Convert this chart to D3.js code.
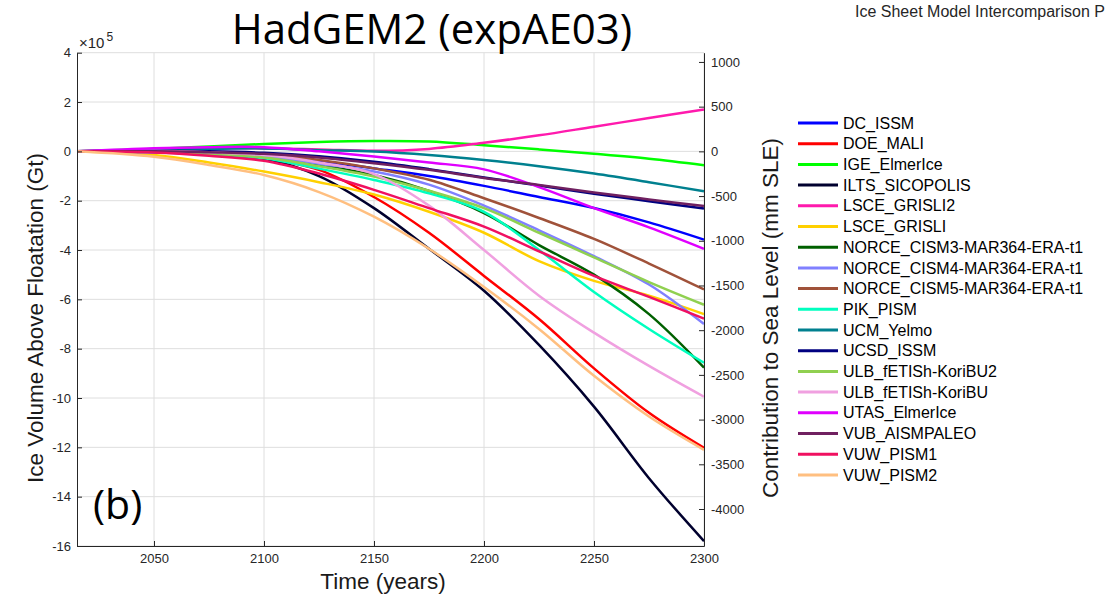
<!DOCTYPE html>
<html>
<head>
<meta charset="utf-8">
<script src="https://cdn.jsdelivr.net/npm/d3@7"></script>
<style>
body { margin: 0; background: #fff; }
text { font-family: 'Liberation Sans', Arial, sans-serif; }
</style>
</head>
<body>
<div id="chart"></div>
<script>
'use strict'
/* Data: ice volume change in units of 10^5 Gt */
var years = [2015, 2050, 2075, 2100, 2125, 2150, 2175, 2200, 2225, 2250, 2275, 2300];

var dcIssm        = [0, -0.04, -0.10, -0.20, -0.40, -0.69, -1.00, -1.40, -1.85, -2.30, -2.88, -3.58];
var doeMali       = [0, -0.03, -0.12, -0.28, -0.75, -1.85, -3.30, -5.05, -6.80, -8.80, -10.6, -12.02];
var igeElmerIce   = [0, 0.10, 0.20, 0.30, 0.38, 0.42, 0.40, 0.25, 0.08, -0.10, -0.30, -0.56];
var iltsSicopolis = [0, -0.03, -0.12, -0.30, -1.00, -2.30, -3.95, -5.65, -7.85, -10.35, -13.25, -15.8];
var lsceGrisli2   = [0, 0.08, 0.12, 0.12, 0.08, 0.02, 0.10, 0.35, 0.65, 1.00, 1.35, 1.70];
var lsceGrisli    = [0, -0.15, -0.45, -0.82, -1.25, -1.75, -2.45, -3.30, -4.45, -5.25, -5.85, -6.60];
var norceCism3    = [0, 0, -0.08, -0.20, -0.55, -0.96, -1.60, -2.50, -3.80, -5.00, -6.60, -8.77];
var norceCism4    = [0, -0.05, -0.10, -0.20, -0.50, -0.82, -1.35, -2.20, -3.20, -4.25, -5.40, -7.00];
var norceCism5    = [0, 0, -0.04, -0.12, -0.35, -0.69, -1.15, -1.90, -2.70, -3.55, -4.55, -5.60];
var pikPism       = [0, -0.02, -0.12, -0.28, -0.70, -1.16, -1.70, -2.45, -4.00, -5.70, -7.20, -8.57];
var ucmYelmo      = [0, 0.06, 0.10, 0.12, 0.05, -0.01, -0.15, -0.35, -0.60, -0.90, -1.25, -1.62];
var ucsdIssm      = [0, 0.02, 0, -0.06, -0.20, -0.42, -0.72, -1.06, -1.38, -1.72, -2.02, -2.32];
var ulbKoriBU2    = [0, -0.02, -0.10, -0.25, -0.60, -1.02, -1.60, -2.30, -3.30, -4.30, -5.30, -6.22];
var ulbKoriBU     = [0, 0.02, -0.04, -0.15, -0.45, -0.92, -2.20, -4.00, -5.85, -7.35, -8.70, -9.95];
var utasElmerIce  = [0, 0.13, 0.17, 0.17, 0.00, -0.21, -0.45, -0.73, -1.45, -2.30, -3.08, -3.95];
var vubAismPaleo  = [0, 0, -0.04, -0.10, -0.25, -0.48, -0.75, -1.08, -1.36, -1.67, -1.95, -2.22];
var vuwPism1      = [0, -0.05, -0.18, -0.38, -0.90, -1.56, -2.30, -3.05, -4.05, -5.05, -5.90, -6.78];
var vuwPism2      = [0, -0.22, -0.55, -0.96, -1.65, -2.65, -3.95, -5.50, -7.20, -9.10, -10.75, -12.1];

var names = ['DC_ISSM', 'DOE_MALI', 'IGE_ElmerIce', 'ILTS_SICOPOLIS', 'LSCE_GRISLI2', 'LSCE_GRISLI',
  'NORCE_CISM3-MAR364-ERA-t1', 'NORCE_CISM4-MAR364-ERA-t1', 'NORCE_CISM5-MAR364-ERA-t1', 'PIK_PISM',
  'UCM_Yelmo', 'UCSD_ISSM', 'ULB_fETISh-KoriBU2', 'ULB_fETISh-KoriBU', 'UTAS_ElmerIce',
  'VUB_AISMPALEO', 'VUW_PISM1', 'VUW_PISM2'];
var colors = ['#0000ff', '#ff0000', '#00ff00', '#00002e', '#ff1aad', '#ffd000',
  '#006000', '#8080ff', '#a0523a', '#00ffbf',
  '#00808f', '#000080', '#90d050', '#f0a0e0', '#e000ff',
  '#702060', '#f01060', '#ffbf80'];
var values = [dcIssm, doeMali, igeElmerIce, iltsSicopolis, lsceGrisli2, lsceGrisli,
  norceCism3, norceCism4, norceCism5, pikPism, ucmYelmo, ucsdIssm, ulbKoriBU2, ulbKoriBU,
  utasElmerIce, vubAismPaleo, vuwPism1, vuwPism2];

var xTicks = [2050, 2100, 2150, 2200, 2250, 2300];
var yTicks = [4, 2, 0, -2, -4, -6, -8, -10, -12, -14, -16];
var sleTicks = [1000, 500, 0, -500, -1000, -1500, -2000, -2500, -3000, -3500, -4000];
var gtPerMm = 362.5;

var w = 1117;
var h = 602;
var pLeft = 77, pRight = 704, pTop = 52.7, pBottom = 546;

var svg = d3.select('#chart').append('svg')
  .attr('width', w)
  .attr('height', h);

var x = d3.scaleLinear().domain([2015, 2300]).range([pLeft, pRight]);
var y = d3.scaleLinear().domain([-16, 4]).range([pBottom, pTop]);
var ySle = d3.scaleLinear().domain([-16e5 / gtPerMm, 4e5 / gtPerMm]).range([pBottom, pTop]);

/* grid */
svg.append('g').selectAll('line').data(xTicks).enter().append('line')
  .attr('x1', d => x(d)).attr('x2', d => x(d))
  .attr('y1', pTop).attr('y2', pBottom)
  .attr('stroke', '#dedede').attr('stroke-width', 1);
svg.append('g').selectAll('line').data(yTicks).enter().append('line')
  .attr('x1', pLeft).attr('x2', pRight)
  .attr('y1', d => y(d)).attr('y2', d => y(d))
  .attr('stroke', '#dedede').attr('stroke-width', 1);

/* lines */
var line = d3.line()
  .x((d, i) => x(years[i]))
  .y(d => y(d))
  .curve(d3.curveCatmullRom.alpha(0.5));

svg.append('g').selectAll('path').data(values).enter().append('path')
  .attr('d', d => line(d))
  .attr('fill', 'none')
  .attr('stroke', (d, i) => colors[i])
  .attr('stroke-width', 2.5)
  .attr('stroke-linejoin', 'round');

/* axes */
function styleAxis(g) {
  g.select('.domain').attr('stroke', '#262626');
  g.selectAll('.tick line').attr('stroke', '#262626');
  g.selectAll('.tick text').attr('fill', '#262626').style('font-size', '13px')
    .style('font-family', "'Liberation Sans', Arial, sans-serif");
}

svg.append('g')
  .attr('transform', 'translate(0,' + pBottom + ')')
  .call(d3.axisBottom(x).tickValues(xTicks).tickFormat(d => String(d))
    .tickSize(-5).tickSizeOuter(0).tickPadding(8))
  .call(styleAxis);

svg.append('g')
  .attr('transform', 'translate(' + pLeft + ',0)')
  .call(d3.axisLeft(y).tickValues(yTicks).tickFormat(d => String(d))
    .tickSize(-5).tickSizeOuter(0).tickPadding(6))
  .call(styleAxis);

svg.append('g')
  .attr('transform', 'translate(' + pRight + ',0)')
  .call(d3.axisRight(ySle).tickValues(sleTicks).tickFormat(d => String(d))
    .tickSize(-5).tickSizeOuter(0).tickPadding(7))
  .call(styleAxis);

/* x10^5 */
var expo = svg.append('text')
  .attr('x', 79).attr('y', 48)
  .attr('fill', '#262626')
  .style('font-size', '15px')
  .text('\u00d710');
expo.append('tspan').attr('dx', 2).attr('dy', -7).style('font-size', '12px').text('5');

/* texts */
svg.append('text')
  .attr('x', 432).attr('y', 44)
  .attr('text-anchor', 'middle')
  .style('font-family', "'Open Sans', sans-serif")
  .style('font-size', '42px')
  .attr('fill', '#000')
  .text('HadGEM2 (expAE03)');

svg.append('text')
  .attr('x', 93).attr('y', 519)
  .style('font-family', "'Open Sans', sans-serif")
  .style('font-size', '41px')
  .attr('fill', '#000')
  .text('(b)');

svg.append('text')
  .attr('x', 855).attr('y', 17)
  .attr('fill', '#262626')
  .style('font-size', '16px')
  .text('Ice Sheet Model Intercomparison P');

svg.append('text')
  .attr('x', 383).attr('y', 589)
  .attr('text-anchor', 'middle')
  .attr('fill', '#1a1a1a')
  .style('font-size', '22.5px')
  .text('Time (years)');

svg.append('text')
  .attr('transform', 'translate(43,318) rotate(-90)')
  .attr('text-anchor', 'middle')
  .attr('fill', '#1a1a1a')
  .style('font-size', '22.5px')
  .text('Ice Volume Above Floatation (Gt)');

svg.append('text')
  .attr('transform', 'translate(778,318) rotate(-90)')
  .attr('text-anchor', 'middle')
  .attr('fill', '#1a1a1a')
  .style('font-size', '22.5px')
  .text('Contribution to Sea Level (mm SLE)');

/* legend */
var legend = svg.append('g').selectAll('g').data(names).enter().append('g')
  .attr('transform', (d, i) => 'translate(798,' + (123 + i * 20.7) + ')');
legend.append('line')
  .attr('x1', 0).attr('x2', 40)
  .attr('stroke', (d, i) => colors[i])
  .attr('stroke-width', 3);
legend.append('text')
  .attr('x', 45).attr('dy', '0.35em')
  .attr('fill', '#000')
  .style('font-size', '16px')
  .text(d => d);
</script>
</body>
</html>
